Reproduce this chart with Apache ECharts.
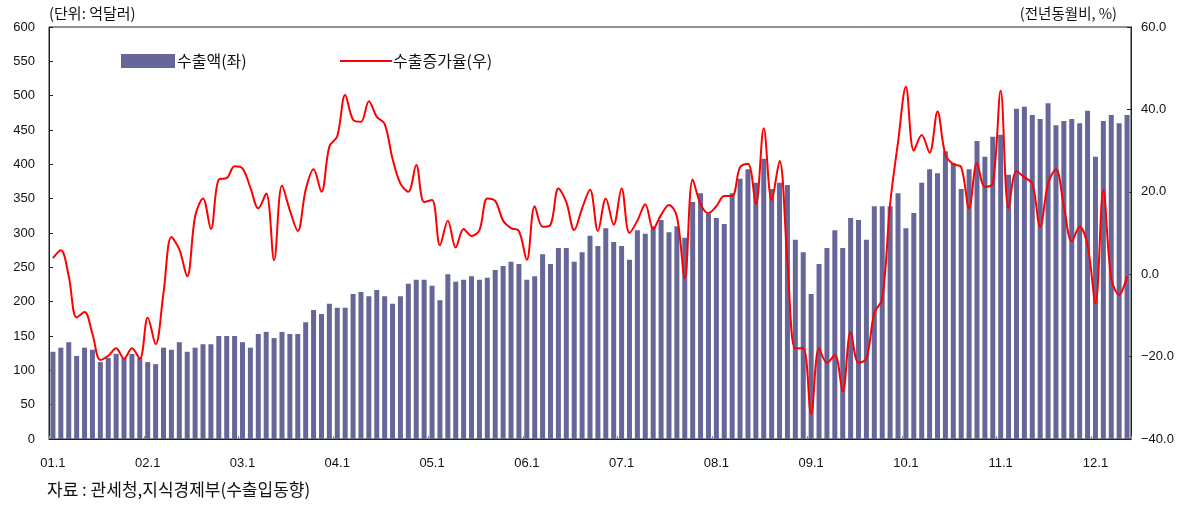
<!DOCTYPE html>
<html>
<head>
<meta charset="utf-8">
<script src="https://cdn.jsdelivr.net/npm/echarts@6/dist/echarts.min.js"></script>
<style>
  html, body { margin: 0; padding: 0; background: #fff; }
  #chart { width: 1192px; height: 507px; }
</style>
</head>
<body>
<div id="chart"></div>
<script>
// 월별 카테고리 (01.1 ~ 12.5)
var years = ['01','02','03','04','05','06','07','08','09','10','11','12'];
var lastMonthCount = 137;

// 수출액 (억달러), 좌축
var exportValue = [
    127, 133, 141, 121, 133, 130, 112, 118, 124, 118, 124, 118,
    112, 109, 133, 130, 141, 127, 133, 138, 138, 150, 150, 150,
    141, 133, 153, 156, 147, 156, 153, 153, 170, 188, 182, 197,
    191, 191, 211, 214, 208, 217, 208, 197, 208, 226, 232, 232,
    223, 202, 240, 229, 232, 237, 232, 235, 246, 252, 258, 255,
    232, 237, 269, 255, 278, 278, 258, 272, 296, 281, 307, 287,
    281, 261, 304, 299, 310, 319, 301, 310, 293, 345, 358, 328,
    322, 313, 358, 379, 393, 373, 408, 364, 373, 370, 290, 272,
    211, 255, 278, 304, 278, 322, 319, 290, 339, 339, 339, 358,
    307, 329, 373, 393, 387, 419, 402, 364, 393, 434, 411, 440,
    443, 385, 481, 484, 472, 466, 489, 457, 463, 466, 460, 478,
    411, 463, 472, 460, 472
];

// 수출증가율 (전년동월비, %), 우축
var exportGrowth = [
    3.9, 5.8, -0.5, -10.5, -9.2, -14.5, -20.8, -19.8, -18, -20.5, -18, -20.5,
    -10.5, -17, -4.5, 9, 6, -0.5, 14, 18.4, 11, 23, 23.3, 26.2,
    25.7, 21, 16, 19.6, 3.4, 21.5, 15.5, 10.5, 20.5, 25.5, 20, 31,
    33.5, 43.5, 37.5, 37, 42, 38.2, 36.5, 28, 22, 20, 26.5, 17.5,
    18, 7, 13, 6.5, 11, 9.3, 10.7, 18.4, 17.8, 13, 11.2, 10.5,
    3.5, 16.5, 11.5, 12, 20.8, 17.5, 10.7, 16, 20.5, 10.5, 18.4, 12,
    20.8, 10, 13, 17, 11, 14.4, 16.8, 14, -1, 23, 17, 14.8,
    16.5, 19, 19, 26, 26.8, 17, 35.4, 18, 27.5, 3, -18, -18,
    -34, -18, -21.5, -19.6, -28.5, -14, -21.5, -20.5, -9.4, -6, 17, 32,
    45.5, 30, 33.8, 29.5, 39.5, 29, 26.7, 26, 16, 27, 21.2, 22,
    44.5, 16, 25, 23.5, 22, 11.5, 22, 25.5, 16.5, 8, 11.5, 7,
    -7, 20.4, -1, -5, -0.5
];

var categories = [];
for (var y = 0; y < years.length; y++) {
    for (var m = 1; m <= 12; m++) {
        if (categories.length < lastMonthCount) categories.push(years[y] + '.' + m);
    }
}

var numFont = "'Liberation Sans', 'Noto Sans CJK KR', sans-serif";
var krFont = "'Noto Sans CJK KR', 'Liberation Sans', sans-serif";

var dom = document.getElementById('chart');
var myChart = echarts.init(dom, null, { renderer: 'canvas' });

var option = {
    animation: false,
    backgroundColor: '#fff',
    grid: {
        left: 49,
        right: 61,
        top: 27,
        bottom: 68,
        show: true,
        borderColor: '#222',
        borderWidth: 1
    },
    legend: [
        {
            data: ['수출액(좌)'],
            left: 116,
            top: 48,
            itemWidth: 54,
            itemHeight: 14,
            itemGap: 0,
            icon: 'rect',
            textStyle: { fontFamily: krFont, fontSize: 16, color: '#111', padding: [0, 0, 0, -3] }
        },
        {
            data: ['수출증가율(우)'],
            left: 335,
            top: 48,
            itemWidth: 52,
            itemHeight: 2,
            icon: 'rect',
            textStyle: { fontFamily: krFont, fontSize: 16, color: '#111', padding: [0, 0, 0, -4] }
        }
    ],
    xAxis: {
        type: 'category',
        data: categories,
        boundaryGap: true,
        axisLine: { lineStyle: { color: '#222' } },
        axisTick: {
            show: true,
            inside: true,
            length: 3,
            interval: function (idx) { return idx % 12 === 0; },
            lineStyle: { color: '#888' }
        },
        axisLabel: {
            interval: function (idx) { return idx % 12 === 0; },
            margin: 18,
            fontFamily: numFont,
            fontSize: 13,
            color: '#111'
        },
        splitLine: { show: false }
    },
    yAxis: [
        {
            type: 'value',
            min: 0,
            max: 600,
            interval: 50,
            name: '(단위: 억달러)',
            nameLocation: 'end',
            nameGap: 6,
            nameTextStyle: { fontFamily: krFont, fontSize: 15, color: '#111', align: 'left' },
            axisLine: { show: true, lineStyle: { color: '#222' } },
            axisTick: { show: true, inside: true, length: 4, lineStyle: { color: '#222' } },
            axisLabel: { margin: 14, padding: [3, 0, 0, 0], fontFamily: numFont, fontSize: 13, color: '#111' },
            splitLine: { show: false }
        },
        {
            type: 'value',
            min: -40,
            max: 60,
            interval: 20,
            name: '(전년동월비, %)',
            nameLocation: 'end',
            nameGap: 6,
            nameTextStyle: { fontFamily: krFont, fontSize: 14.5, color: '#111', align: 'right', padding: [0, 14, 0, 0] },
            axisLine: { show: true, lineStyle: { color: '#222' } },
            axisTick: { show: true, inside: true, length: 4, lineStyle: { color: '#222' } },
            axisLabel: {
                margin: 10,
                padding: [3, 0, 0, 0],
                fontFamily: numFont,
                fontSize: 13,
                color: '#111',
                formatter: function (v) { return v.toFixed(1).replace('-', '\u2212'); }
            },
            splitLine: { show: false }
        }
    ],
    series: [
        {
            name: '수출액(좌)',
            type: 'bar',
            yAxisIndex: 0,
            barWidth: 5,
            itemStyle: { color: '#666699' },
            data: exportValue
        },
        {
            name: '수출증가율(우)',
            type: 'line',
            yAxisIndex: 1,
            smooth: 0.35,
            symbol: 'none',
            itemStyle: { color: '#ff0000' },
            lineStyle: { color: '#ff0000', width: 2 },
            data: exportGrowth,
            z: 3
        }
    ],
    graphic: [
        {
            type: 'text',
            left: 47,
            top: 481,
            style: {
                text: '자료 : 관세청,지식경제부(수출입동향)',
                fontFamily: krFont,
                fontSize: 17,
                fill: '#111'
            }
        }
    ]
};

myChart.setOption(option);
</script>
</body>
</html>
